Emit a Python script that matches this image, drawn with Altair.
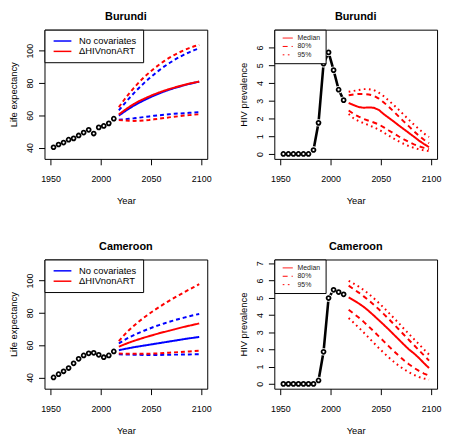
import altair as alt
import pandas as pd

# ---------------- data ----------------
OBS_YEARS = [1953, 1958, 1963, 1968, 1973, 1978, 1983, 1988, 1993, 1998, 2003, 2008, 2013]
PROJ_YEARS = [2018, 2023, 2028, 2033, 2038, 2043, 2048, 2053, 2058, 2063,
              2068, 2073, 2078, 2083, 2088, 2093, 2098]

SERIES = ["No covariates", "ΔHIVnonART"]
SERIES_COLORS = ["#0000ff", "#ff0000"]
LE_BANDS = ["median", "lower", "upper"]
HIV_BANDS = ["Median", "80%", "95%"]

# Burundi life expectancy
bur_le_obs = [40.2, 41.9, 43.1, 44.9, 45.7, 47.5, 49.3, 51.0, 48.7, 52.5, 53.4, 55.0, 57.9]
bur_nocov_med = [59.8, 62.0, 64.1, 66.0, 67.7, 69.3, 70.8, 72.2, 73.5, 74.7, 75.8, 76.8, 77.7, 78.6, 79.4, 80.1, 80.8]
bur_nocov_lo = [57.2, 57.5, 57.8, 58.1, 58.5, 58.9, 59.3, 59.7, 60.0, 60.3, 60.6, 60.9, 61.1, 61.3, 61.5, 61.7, 61.9]
bur_nocov_up = [63.0, 66.7, 70.3, 73.7, 76.9, 79.9, 82.7, 85.3, 87.8, 90.1, 92.2, 94.2, 96.0, 97.6, 99.0, 100.3, 101.4]
bur_hiv_med = [60.5, 62.8, 65.0, 67.0, 68.7, 70.2, 71.6, 72.9, 74.1, 75.2, 76.2, 77.1, 78.0, 78.8, 79.6, 80.2, 80.9]
bur_hiv_lo = [57.0, 56.8, 56.6, 56.5, 56.6, 56.8, 57.1, 57.5, 57.9, 58.3, 58.7, 59.1, 59.4, 59.8, 60.1, 60.4, 60.6]
bur_hiv_up = [65.0, 69.3, 73.3, 77.0, 80.4, 83.5, 86.3, 88.9, 91.3, 93.5, 95.5, 97.3, 98.9, 100.3, 101.6, 102.7, 103.6]

# Cameroon life expectancy
cam_le_obs = [40.0, 42.0, 43.8, 45.8, 48.7, 51.5, 53.6, 54.9, 55.2, 54.0, 52.5, 53.6, 56.1]
cam_nocov_med = [56.8, 57.5, 58.1, 58.7, 59.2, 59.7, 60.2, 60.7, 61.2, 61.7, 62.2, 62.7, 63.2, 63.7, 64.2, 64.6, 65.0]
cam_nocov_lo = [54.3, 54.2, 54.1, 54.0, 54.0, 53.9, 53.9, 53.9, 53.9, 54.0, 54.0, 54.1, 54.1, 54.2, 54.2, 54.3, 54.3]
cam_nocov_up = [61.0, 63.0, 64.7, 66.2, 67.6, 68.9, 70.1, 71.3, 72.4, 73.4, 74.4, 75.3, 76.2, 77.0, 77.8, 78.6, 79.3]
cam_hiv_med = [59.0, 60.3, 61.5, 62.6, 63.6, 64.6, 65.5, 66.4, 67.3, 68.1, 68.9, 69.7, 70.5, 71.3, 72.0, 72.7, 73.4]
cam_hiv_lo = [54.8, 54.7, 54.6, 54.6, 54.6, 54.6, 54.7, 54.8, 54.9, 55.1, 55.3, 55.5, 55.7, 55.9, 56.1, 56.3, 56.5]
cam_hiv_up = [62.5, 66.0, 69.2, 72.0, 74.6, 77.0, 79.3, 81.5, 83.5, 85.5, 87.4, 89.2, 91.0, 92.7, 94.4, 96.0, 97.8]

# Burundi HIV prevalence
bur_prev_obs = [0, 0, 0, 0, 0, 0, 0.22, 1.75, 5.08, 5.72, 4.72, 3.62, 3.03]
bur_prev_med = [2.87, 2.75, 2.64, 2.60, 2.62, 2.60, 2.48, 2.24, 2.03, 1.82, 1.60, 1.39, 1.18, 0.97, 0.75, 0.56, 0.38]
bur_prev_lo80 = [2.45, 2.25, 2.10, 1.97, 1.87, 1.77, 1.66, 1.50, 1.32, 1.15, 0.98, 0.82, 0.67, 0.54, 0.43, 0.34, 0.27]
bur_prev_up80 = [3.30, 3.35, 3.38, 3.38, 3.35, 3.28, 3.12, 2.90, 2.65, 2.38, 2.10, 1.82, 1.55, 1.28, 1.02, 0.80, 0.60]
bur_prev_lo95 = [2.25, 2.00, 1.85, 1.73, 1.62, 1.50, 1.37, 1.20, 1.03, 0.86, 0.70, 0.56, 0.44, 0.34, 0.26, 0.20, 0.16]
bur_prev_up95 = [3.50, 3.55, 3.60, 3.65, 3.65, 3.60, 3.45, 3.25, 3.00, 2.75, 2.48, 2.20, 1.92, 1.65, 1.40, 1.15, 0.95]

# Cameroon HIV prevalence
cam_prev_obs = [0, 0, 0, 0, 0, 0, 0, 0.20, 1.86, 4.98, 5.46, 5.33, 5.20]
cam_prev_med = [5.02, 4.85, 4.67, 4.47, 4.23, 3.97, 3.70, 3.43, 3.15, 2.86, 2.57, 2.28, 2.00, 1.77, 1.50, 1.20, 0.92]
cam_prev_lo80 = [4.30, 4.08, 3.85, 3.60, 3.33, 3.05, 2.76, 2.47, 2.18, 1.90, 1.63, 1.37, 1.14, 0.93, 0.75, 0.60, 0.48]
cam_prev_up80 = [5.70, 5.50, 5.30, 5.08, 4.85, 4.60, 4.33, 4.05, 3.76, 3.46, 3.16, 2.85, 2.55, 2.25, 1.95, 1.65, 1.35]
cam_prev_lo95 = [3.82, 3.55, 3.27, 2.98, 2.68, 2.38, 2.08, 1.80, 1.53, 1.28, 1.05, 0.85, 0.67, 0.52, 0.40, 0.31, 0.25]
cam_prev_up95 = [5.98, 5.82, 5.65, 5.45, 5.22, 4.97, 4.70, 4.42, 4.12, 3.82, 3.52, 3.20, 2.90, 2.60, 2.30, 2.00, 1.70]

# ---------------- styling ----------------
FONT = "Liberation Sans, Arial, Helvetica, sans-serif"
W, H = 165, 131
X_TICKS = [1950, 2000, 2050, 2100]


def x_enc():
    return alt.X("year:Q",
                 scale=alt.Scale(domain=[1944, 2106], nice=False, zero=False),
                 axis=alt.Axis(values=X_TICKS, format="d", title="Year"))


def panel_title(name):
    return alt.TitleParams(name, fontSize=11, fontWeight="bold", font=FONT,
                           anchor="middle", offset=7, color="black")


def le_panel(name, obs, proj):
    obs_df = pd.DataFrame({"year": OBS_YEARS, "value": obs})
    rows = []
    for s in SERIES:
        for b in LE_BANDS:
            for yr, v in zip(PROJ_YEARS, proj[s][b]):
                rows.append({"year": yr, "value": v, "series": s, "band": b, "line": s + b})
    proj_df = pd.DataFrame(rows)
    y = alt.Y("value:Q", scale=alt.Scale(domain=[33, 113], nice=False, zero=False),
              axis=alt.Axis(values=[40, 60, 80, 100], title="Life expectancy"))
    lines = alt.Chart(proj_df).mark_line(strokeWidth=2, strokeCap="butt").encode(
        x=x_enc(), y=y,
        color=alt.Color("series:N", sort=SERIES,
                        scale=alt.Scale(domain=SERIES, range=SERIES_COLORS),
                        legend=alt.Legend(orient="top-left", offset=0, title=None,
                                          symbolType="M-0.5,0L3.5,0", symbolStrokeWidth=1.5,
                                          symbolSize=81, symbolFillColor="transparent",
                                          labelFontSize=9.5, labelFont=FONT,
                                          labelColor="black", labelOffset=18, padding=6,
                                          rowPadding=0.5, strokeColor="black",
                                          fillColor="white", cornerRadius=0)),
        strokeDash=alt.StrokeDash("band:N",
                                  scale=alt.Scale(domain=LE_BANDS, range=[[1, 0], [4, 3], [4, 3]]),
                                  legend=None),
        detail="line:N",
    )
    pts = alt.Chart(obs_df).mark_point(shape="circle", filled=False, color="black",
                                       strokeWidth=1.8, size=16, opacity=1).encode(x=x_enc(), y=y)
    return alt.layer(lines, pts).properties(width=W, height=H, title=panel_title(name))


def hiv_panel(name, obs, proj, ymax, yticks):
    obs_df = pd.DataFrame({"year": OBS_YEARS, "value": obs})
    rows = []
    for b in HIV_BANDS:
        for part, vals in proj[b].items():
            for yr, v in zip(PROJ_YEARS, vals):
                rows.append({"year": yr, "value": v, "band": b, "line": b + part})
    proj_df = pd.DataFrame(rows)
    y = alt.Y("value:Q", scale=alt.Scale(domain=[-0.28, ymax], nice=False, zero=False),
              axis=alt.Axis(values=yticks, title="HIV prevalence"))
    obs_line = alt.Chart(obs_df).mark_line(color="black", strokeWidth=2.6).encode(x=x_enc(), y=y)
    halo = alt.Chart(obs_df).mark_point(shape="circle", filled=True, color="white",
                                        size=55, opacity=1).encode(x=x_enc(), y=y)
    rings = alt.Chart(obs_df).mark_point(shape="circle", filled=False, color="black",
                                         strokeWidth=1.8, size=16, opacity=1).encode(x=x_enc(), y=y)
    lines = alt.Chart(proj_df).mark_line(color="#ff0000", strokeWidth=2, strokeCap="butt").encode(
        x=x_enc(), y=y,
        strokeDash=alt.StrokeDash("band:N", sort=HIV_BANDS,
                                  scale=alt.Scale(domain=HIV_BANDS,
                                                  range=[[1, 0], [5, 4], [1.7, 3.5]]),
                                  legend=alt.Legend(orient="top-left", offset=0, title=None,
                                                    symbolType="M0,0L3.4,0",
                                                    symbolStrokeColor="#ff0000",
                                                    symbolFillColor="transparent",
                                                    symbolStrokeWidth=1, symbolSize=36,
                                                    labelFontSize=7, labelFont=FONT,
                                                    labelColor="#222222", labelOffset=11.5,
                                                    padding=5, rowPadding=0.5,
                                                    strokeColor="black", fillColor="white",
                                                    cornerRadius=0)),
        detail="line:N",
    )
    return alt.layer(obs_line, halo, rings, lines).properties(width=W, height=H, title=panel_title(name))


p1 = le_panel("Burundi", bur_le_obs, {
    "No covariates": {"median": bur_nocov_med, "lower": bur_nocov_lo, "upper": bur_nocov_up},
    "ΔHIVnonART": {"median": bur_hiv_med, "lower": bur_hiv_lo, "upper": bur_hiv_up},
})
p2 = hiv_panel("Burundi", bur_prev_obs, {
    "Median": {"m": bur_prev_med},
    "80%": {"lo": bur_prev_lo80, "up": bur_prev_up80},
    "95%": {"lo": bur_prev_lo95, "up": bur_prev_up95},
}, 7.0, [0, 1, 2, 3, 4, 5, 6])
p3 = le_panel("Cameroon", cam_le_obs, {
    "No covariates": {"median": cam_nocov_med, "lower": cam_nocov_lo, "upper": cam_nocov_up},
    "ΔHIVnonART": {"median": cam_hiv_med, "lower": cam_hiv_lo, "upper": cam_hiv_up},
})
p4 = hiv_panel("Cameroon", cam_prev_obs, {
    "Median": {"m": cam_prev_med},
    "80%": {"lo": cam_prev_lo80, "up": cam_prev_up80},
    "95%": {"lo": cam_prev_lo95, "up": cam_prev_up95},
}, 7.22, [0, 1, 2, 3, 4, 5, 6, 7])

chart = alt.concat(p1, p2, p3, p4, columns=2,
                   spacing={"row": 102, "column": 68}, bounds="flush").resolve_scale(
    color="independent", strokeDash="independent"
).properties(padding=0).configure(font=FONT).configure_view(
    stroke="black", strokeWidth=1
).configure_axis(
    grid=False, domain=False, tickSize=6, tickColor="black", tickWidth=1,
    labelFont=FONT, labelFontSize=9, labelColor="black",
    titleFont=FONT, titleFontSize=9.5, titleFontWeight="normal", titleColor="black",
).configure_axisX(labelPadding=10, titlePadding=12).configure_axisY(
    labelAngle=270, labelAlign="center", labelBaseline="alphabetic", labelPadding=6,
    titlePadding=7.5,
)

chart.save("out.html", embed_options={"renderer": "svg", "actions": False})
